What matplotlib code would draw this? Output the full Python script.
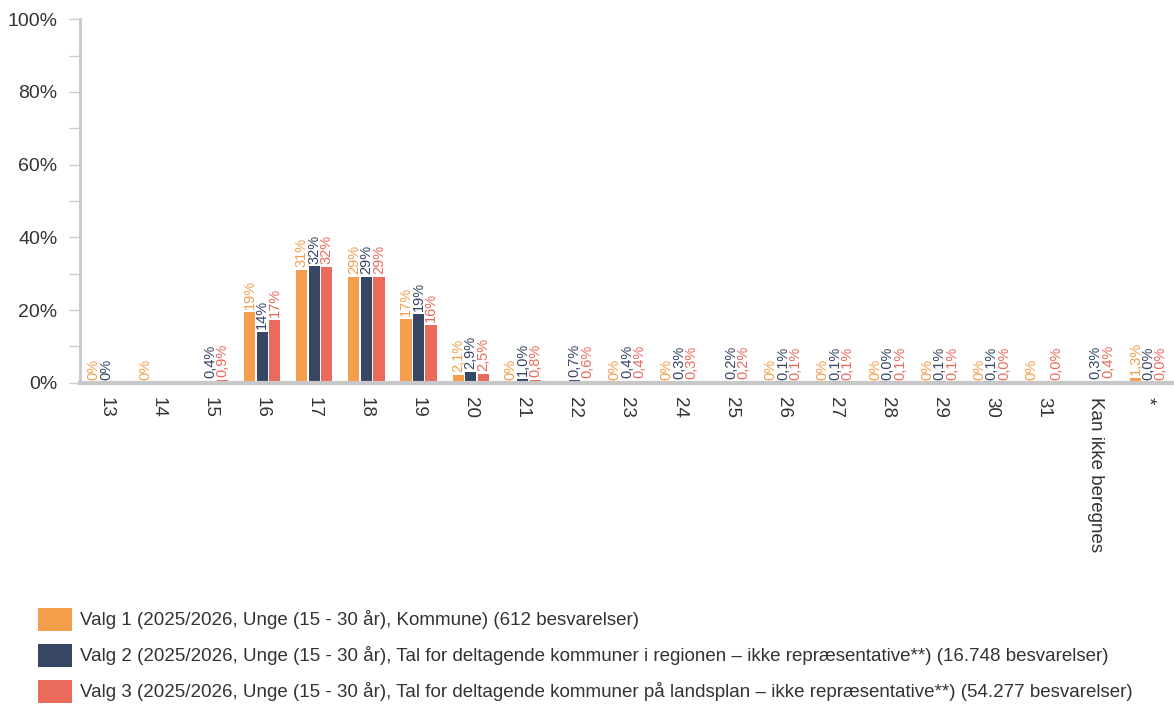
import numpy as np
import matplotlib.pyplot as plt
from matplotlib.ticker import MultipleLocator, FuncFormatter

categories = ["13", "14", "15", "16", "17", "18", "19", "20", "21", "22", "23",
              "24", "25", "26", "27", "28", "29", "30", "31", "Kan ikke beregnes", "*"]

# None = no answer in that group (no bar, no label)
valg1 = [0, 0, None, 19.4, 31, 29, 17.5, 2.1, 0, None, 0,
         0, None, 0, 0, 0, 0, 0, 0, None, 1.3]
valg2 = [0, None, 0.4, 14, 32, 29, 19, 2.9, 1.0, 0.7, 0.4,
         0.3, 0.2, 0.1, 0.1, 0.0, 0.1, 0.1, None, 0.3, 0.0]
valg3 = [None, None, 0.9, 17.2, 31.8, 29, 16, 2.5, 0.8, 0.6, 0.4,
         0.3, 0.2, 0.1, 0.1, 0.1, 0.1, 0.0, 0.0, 0.4, 0.0]

labels1 = ["0%", "0%", None, "19%", "31%", "29%", "17%", "2,1%", "0%", None, "0%",
           "0%", None, "0%", "0%", "0%", "0%", "0%", "0%", None, "1,3%"]
labels2 = ["0%", None, "0,4%", "14%", "32%", "29%", "19%", "2,9%", "1,0%", "0,7%", "0,4%",
           "0,3%", "0,2%", "0,1%", "0,1%", "0,0%", "0,1%", "0,1%", None, "0,3%", "0,0%"]
labels3 = [None, None, "0,9%", "17%", "32%", "29%", "16%", "2,5%", "0,8%", "0,6%", "0,4%",
           "0,3%", "0,2%", "0,1%", "0,1%", "0,1%", "0,1%", "0,0%", "0,0%", "0,4%", "0,0%"]

legend_labels = [
    "Valg 1 (2025/2026, Unge (15 - 30 år), Kommune) (612 besvarelser)",
    "Valg 2 (2025/2026, Unge (15 - 30 år), Tal for deltagende kommuner i regionen – ikke repræsentative**) (16.748 besvarelser)",
    "Valg 3 (2025/2026, Unge (15 - 30 år), Tal for deltagende kommuner på landsplan – ikke repræsentative**) (54.277 besvarelser)",
]
colors = ["#F59E4C", "#374663", "#EA6A5B"]

plt.rcParams['font.family'] = ['Liberation Sans', 'DejaVu Sans']

fig = plt.figure(figsize=(11.74, 7.09), dpi=100)
ax = fig.add_axes([0.068, 0.46, 0.932, 0.513])

x = np.arange(len(categories))
width = 0.215
offsets = [-0.24, 0, 0.24]

for vals, labs, col, off, name in zip([valg1, valg2, valg3], [labels1, labels2, labels3],
                                      colors, offsets, legend_labels):
    xs = [xi + off for xi, v in zip(x, vals) if v is not None]
    hs = [v for v in vals if v is not None]
    ax.bar(xs, hs, width=width, color=col, label=name)
    for xi, v, lab in zip(x, vals, labs):
        if lab is None:
            continue
        ax.text(xi + off, v + 0.8, lab, rotation=90, ha='center', va='bottom',
                color=col, fontsize=10.5)

ax.set_xlim(-0.5, len(categories) - 0.5)
ax.set_ylim(0, 100)
ax.yaxis.set_major_locator(MultipleLocator(20))
ax.yaxis.set_minor_locator(MultipleLocator(10))
ax.yaxis.set_major_formatter(FuncFormatter(lambda v, p: f"{v:.0f}%"))
ax.tick_params(axis='y', which='both', length=8, width=1, color='#cccccc',
               labelsize=14, labelcolor='#333333', pad=8)
ax.set_xticks(x)
ax.set_xticklabels(categories, rotation=270, ha='center', va='top')
ax.tick_params(axis='x', length=0, labelsize=13.5, labelcolor='#333333', pad=10)

for s in ['top', 'right']:
    ax.spines[s].set_visible(False)
ax.spines['left'].set_color('#c8c8c8')
ax.spines['left'].set_linewidth(2)
ax.spines['bottom'].set_color('#c8c8c8')
ax.spines['bottom'].set_linewidth(3)

handles, labs = ax.get_legend_handles_labels()
fig.legend(handles, labs, loc='upper left', bbox_to_anchor=(0.0243, 0.156),
           frameon=False, fontsize=13.5, handlelength=1.8, handleheight=1.5,
           labelspacing=0.7, handletextpad=0.43, borderpad=0, labelcolor='#333333')

fig.savefig("out.png", dpi=100)
